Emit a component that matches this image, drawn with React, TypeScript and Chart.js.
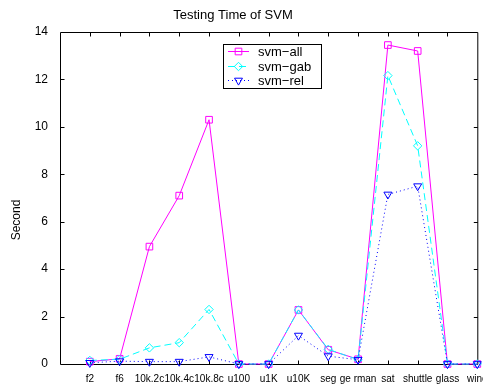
import React, { useEffect, useRef } from 'react';
import { Chart, registerables } from 'chart.js';

Chart.register(...registerables);

const categories = ['f2', 'f6', '10k.2c', '10k.4c', '10k.8c', 'u100', 'u1K', 'u10K', 'seg', 'ge rman', 'sat', 'shuttle', 'glass', 'wine'];
const svmAll = [0.1, 0.22, 4.95, 7.1, 10.3, 0, 0, 2.28, 0.6, 0.2, 13.45, 13.2, 0, 0];
const svmGab = [0.15, 0.2, 0.68, 0.9, 2.3, 0, 0, 2.28, 0.62, 0.18, 12.16, 9.2, 0, 0];
const svmRel = [0.05, 0.12, 0.1, 0.1, 0.3, 0, 0, 1.2, 0.33, 0.18, 7.15, 7.5, 0, 0];
const seriesNames = ['svm−all', 'svm−gab', 'svm−rel'];
const yTickValues = [0, 2, 4, 6, 8, 10, 12, 14];
const titleText = 'Testing Time of SVM';
const yLabelText = 'Second';

const FONT = '"Liberation Sans", Arial, Helvetica, sans-serif';

function toPoints(arr: number[]) {
  return arr.map((v, i) => ({ x: i + 1, y: v }));
}

function drawMarker(ctx: CanvasRenderingContext2D, kind: string, x: number, y: number, r: number) {
  ctx.beginPath();
  if (kind === 'rect') {
    const s = r * Math.SQRT1_2;
    ctx.rect(x - s, y - s, 2 * s, 2 * s);
  } else if (kind === 'rectRot') {
    ctx.moveTo(x, y - r);
    ctx.lineTo(x + r, y);
    ctx.lineTo(x, y + r);
    ctx.lineTo(x - r, y);
    ctx.closePath();
  } else {
    const a = Math.PI;
    for (let k = 0; k < 3; k++) {
      const ang = a + (k * 2 * Math.PI) / 3;
      const px = x + Math.sin(ang) * r;
      const py = y - Math.cos(ang) * r;
      if (k === 0) ctx.moveTo(px, py);
      else ctx.lineTo(px, py);
    }
    ctx.closePath();
  }
  ctx.stroke();
}

function drawFrame(chart: any) {
  const ctx = chart.ctx as CanvasRenderingContext2D;
  const area = chart.chartArea;
  if (!area) return;
  const { left, right, top, bottom } = area;
  const xs = chart.scales.x;
  const ys = chart.scales.y;
  ctx.save();
  ctx.strokeStyle = '#000000';
  ctx.lineWidth = 1;
  ctx.setLineDash([]);
  ctx.beginPath();
  ctx.rect(left + 0.5, top + 0.5, right - left, bottom - top);
  const tl = 4;
  for (let i = 1; i < categories.length; i++) {
    const px = Math.round(xs.getPixelForValue(i)) + 0.5;
    ctx.moveTo(px, bottom + 0.5);
    ctx.lineTo(px, bottom + 0.5 - tl);
    ctx.moveTo(px, top + 0.5);
    ctx.lineTo(px, top + 0.5 + tl);
  }
  for (let k = 1; k < yTickValues.length - 1; k++) {
    const py = Math.round(ys.getPixelForValue(yTickValues[k])) + 0.5;
    ctx.moveTo(left + 0.5, py);
    ctx.lineTo(left + 0.5 + tl, py);
    ctx.moveTo(right + 0.5, py);
    ctx.lineTo(right + 0.5 - tl, py);
  }
  ctx.stroke();
  ctx.restore();
}

const framePlugin = {
  id: 'matlabFrame',
  beforeDraw(chart: any) {
    drawFrame(chart);
  },
  afterDraw(chart: any) {
    const ctx = chart.ctx as CanvasRenderingContext2D;
    ctx.save();
    ctx.fillStyle = '#000';
    ctx.font = `13px ${FONT}`;
    ctx.textAlign = 'center';
    ctx.textBaseline = 'middle';
    ctx.fillText(titleText, 233, 15);

    ctx.save();
    ctx.translate(17, 220);
    ctx.rotate(-Math.PI / 2);
    ctx.font = `12px ${FONT}`;
    ctx.fillText(yLabelText, 0, 0);
    ctx.restore();

    const bx = 223, by = 44, bw = 98, bh = 44;
    ctx.fillStyle = '#fff';
    ctx.fillRect(bx, by, bw, bh);
    ctx.strokeStyle = '#000';
    ctx.lineWidth = 1;
    ctx.strokeRect(bx + 0.5, by + 0.5, bw, bh);
    const rows = [51, 66, 80];
    chart.data.datasets.forEach((ds: any, i: number) => {
      const y = rows[i];
      ctx.strokeStyle = ds.borderColor;
      ctx.lineWidth = 1;
      ctx.setLineDash(ds.borderDash || []);
      ctx.beginPath();
      ctx.moveTo(228, y + 0.5);
      ctx.lineTo(249, y + 0.5);
      ctx.stroke();
      ctx.setLineDash([]);
      drawMarker(ctx, ds.pointStyle, 238.5, y + 0.5, ds.pointRadius);
      ctx.fillStyle = '#000';
      ctx.font = `13px ${FONT}`;
      ctx.textAlign = 'left';
      ctx.textBaseline = 'middle';
      ctx.fillText(ds.label, 258, y + 1);
    });
    ctx.restore();
  },
};

export default function App() {
  const canvasRef = useRef<HTMLCanvasElement | null>(null);

  useEffect(() => {
    if (!canvasRef.current) return;
    const chart = new Chart(canvasRef.current, {
      type: 'line',
      data: {
        datasets: [
          {
            label: seriesNames[0],
            data: toPoints(svmAll),
            borderColor: '#ff00ff',
            backgroundColor: 'rgba(0,0,0,0)',
            borderWidth: 1,
            pointStyle: 'rect',
            pointRadius: 4.7,
            pointBorderWidth: 1,
            pointBackgroundColor: 'rgba(0,0,0,0)',
            pointBorderColor: '#ff00ff',
            tension: 0,
            clip: false,
            order: 3,
          },
          {
            label: seriesNames[1],
            data: toPoints(svmGab),
            borderColor: '#00ffff',
            backgroundColor: 'rgba(0,0,0,0)',
            borderWidth: 1,
            borderDash: [7, 4],
            pointStyle: 'rectRot',
            pointRadius: 4.2,
            pointBorderWidth: 1,
            pointBackgroundColor: 'rgba(0,0,0,0)',
            pointBorderColor: '#00ffff',
            tension: 0,
            clip: false,
            order: 2,
          },
          {
            label: seriesNames[2],
            data: toPoints(svmRel),
            borderColor: '#0000ff',
            backgroundColor: 'rgba(0,0,0,0)',
            borderWidth: 1,
            borderDash: [1, 3],
            pointStyle: 'triangle',
            pointRotation: 180,
            pointRadius: 4.6,
            pointBorderWidth: 1,
            pointBackgroundColor: 'rgba(0,0,0,0)',
            pointBorderColor: '#0000ff',
            tension: 0,
            clip: false,
            order: 1,
          },
        ] as any,
      },
      options: {
        animation: false,
        responsive: false,
        maintainAspectRatio: false,
        devicePixelRatio: 1,
        layout: { padding: { left: 0, right: 3, top: 32, bottom: 0 } },
        plugins: {
          legend: { display: false },
          title: { display: false },
          tooltip: { enabled: false },
        },
        scales: {
          x: {
            type: 'linear',
            min: 0,
            max: categories.length,
            grid: { display: false },
            border: { display: false },
            afterFit: (s: any) => {
              s.height = 21;
              s.paddingLeft = 0;
              s.paddingRight = 0;
            },
            afterBuildTicks: (s: any) => {
              s.ticks = categories.map((_, i) => ({ value: i + 1 }));
            },
            ticks: {
              autoSkip: false,
              maxRotation: 0,
              minRotation: 0,
              padding: 1,
              color: '#000',
              font: { family: FONT, size: 10 },
              callback: (v: any) => categories[Number(v) - 1] ?? '',
            },
          },
          y: {
            type: 'linear',
            min: 0,
            max: 14,
            grid: { display: false },
            border: { display: false },
            afterFit: (s: any) => {
              s.width = 60;
              s.paddingTop = 0;
              s.paddingBottom = 0;
            },
            afterBuildTicks: (s: any) => {
              s.ticks = yTickValues.map((v) => ({ value: v }));
            },
            ticks: {
              padding: 4,
              color: '#000',
              font: { family: FONT, size: 12 },
            },
          },
        },
      },
      plugins: [framePlugin],
    } as any);
    return () => chart.destroy();
  }, []);

  return (
    <div style={{ position: 'absolute', left: 0, top: 0, width: 483, height: 385, background: '#fff' }}>
      <canvas ref={canvasRef} width={483} height={385} style={{ width: 483, height: 385, display: 'block' }} />
    </div>
  );
}
